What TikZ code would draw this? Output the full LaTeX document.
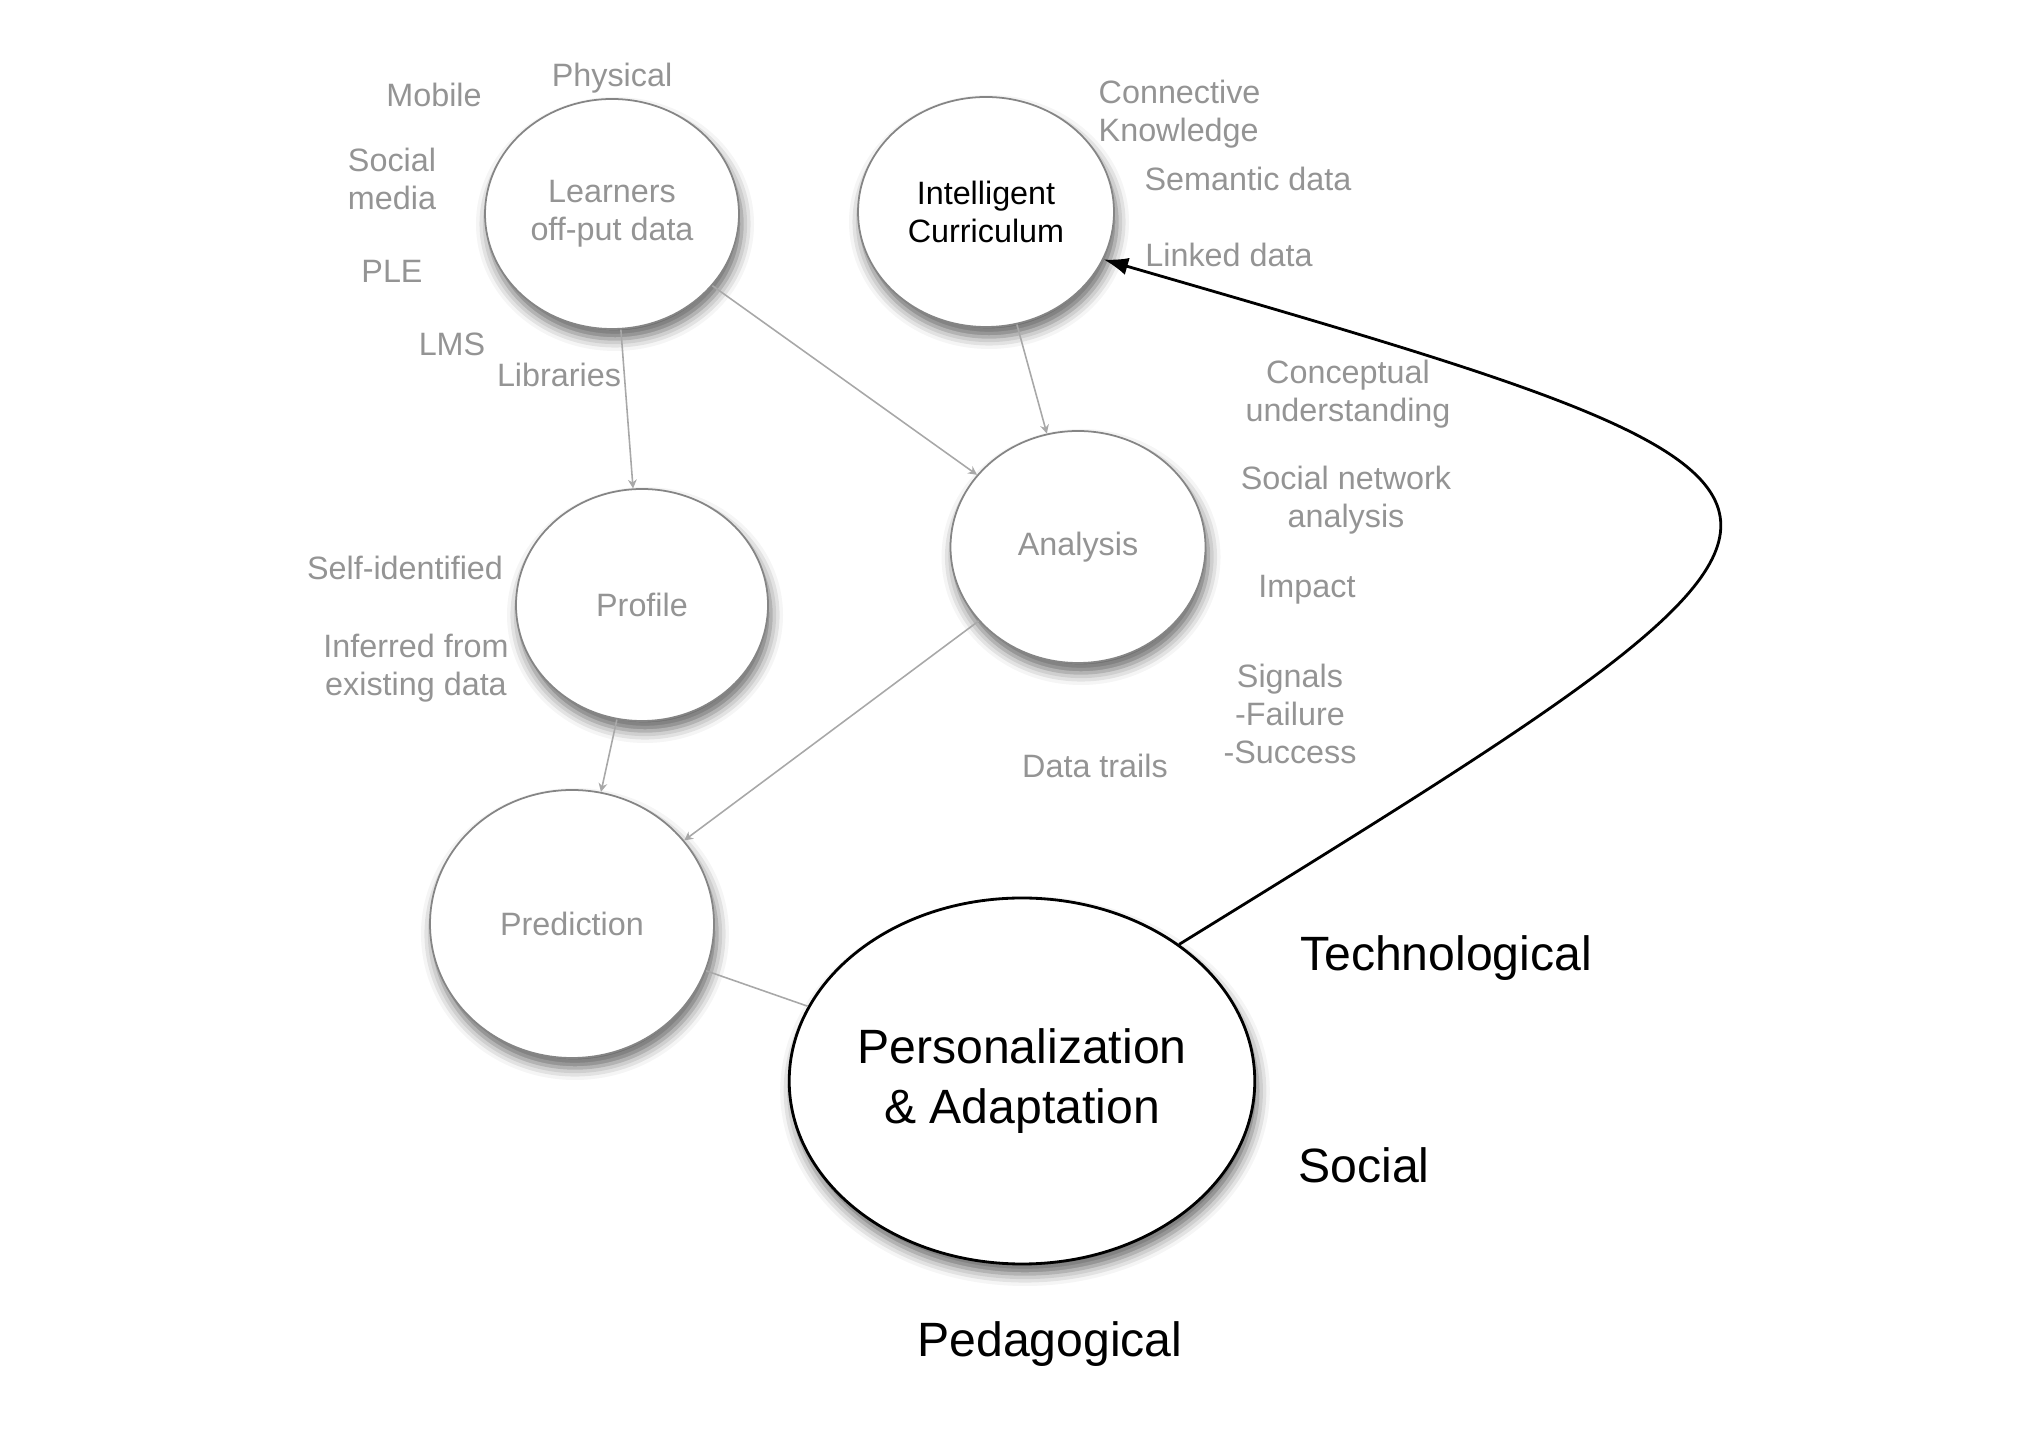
\documentclass[tikz,border=0pt]{standalone}
\usepackage{fontspec}
\setmainfont{Liberation Sans}
\usetikzlibrary{shapes.geometric,shadows.blur,arrows.meta}

\definecolor{labelgray}{gray}{0.58}
\definecolor{rimgray}{gray}{0.52}
\definecolor{linkgray}{gray}{0.66}

\begin{document}
\begin{tikzpicture}[auto,
	bubble/.style={ellipse, draw=rimgray, line width=0.5pt, fill=white, inner sep=0pt,
		text=labelgray, align=center, font=\fontsize{9.2}{10.7}\selectfont,
		blur shadow={shadow xshift=0.03cm, shadow yshift=-0.1cm, shadow blur radius=0.12cm, shadow opacity=60}},
	tag/.style={text=labelgray, align=center, inner sep=0pt, font=\fontsize{9.2}{10.7}\selectfont},
	theme/.style={text=black, inner sep=0pt, font=\fontsize{13.7}{17}\selectfont},
	link/.style={draw=linkgray, line width=0.45pt, -{Stealth[length=2.5pt,width=2.5pt]}}]

	\useasboundingbox (0,0) rectangle (20.37,14.40);

	\node (learners) [bubble, minimum width=2.54cm, minimum height=2.30cm] at (6.12, 12.26) {Learners\\off-put data};
	\node (curriculum) [bubble, minimum width=2.56cm, minimum height=2.30cm, text=black] at (9.86, 12.28) {Intelligent\\Curriculum};
	\node (profile) [bubble, minimum width=2.52cm, minimum height=2.32cm] at (6.42, 8.35) {Profile};
	\node (analysis) [bubble, minimum width=2.55cm, minimum height=2.32cm] at (10.78, 8.93) {Analysis};
	\node (prediction) [bubble, minimum width=2.84cm, minimum height=2.68cm] at (5.72, 5.16) {Prediction};
	\node (personal) [bubble, minimum width=4.58cm, minimum height=3.66cm, draw=black, line width=0.8pt,
		text=black, font=\fontsize{13.7}{17}\selectfont] at (10.22, 3.59) {Personalization\\\& Adaptation};

	% gray notes round the bubbles
	\node (physical) [tag] at (6.12, 13.62) {Physical};
	\node (mobile) [tag] at (4.34, 13.45) {Mobile};
	\node (socmedia) [tag] at (3.92, 12.61) {Social\\media};
	\node (ple) [tag] at (3.92, 11.69) {PLE};
	\node (lms) [tag] at (4.52, 10.96) {LMS};
	\node (libraries) [tag] at (5.59, 10.65) {Libraries};
	\node (connective) [tag, anchor=west, align=left] at (10.98, 13.26) {Connective\\Knowledge};
	\node (semantic) [tag] at (12.48, 12.61) {Semantic data};
	\node (linked) [tag] at (12.29, 11.85) {Linked data};
	\node (conceptual) [tag] at (13.48, 10.46) {Conceptual\\understanding};
	\node (sna) [tag] at (13.46, 9.40) {Social network\\analysis};
	\node (impact) [tag] at (13.07, 8.50) {Impact};
	\node (signals) [tag] at (12.90, 7.26) {Signals\\-Failure\\-Success};
	\node (trails) [tag] at (10.95, 6.74) {Data trails};
	\node (selfid) [tag] at (4.05, 8.72) {Self-identified};
	\node (inferred) [tag] at (4.16, 7.72) {Inferred from\\existing data};

	\node (techno) [theme] at (14.46, 4.82) {Technological};
	\node (social) [theme] at (13.64, 2.75) {Social};
	\node (pedago) [theme] at (10.50, 0.96) {Pedagogical};

	\coordinate (corner) at (19.10, 9.47);

	\path
	(learners) edge[link] (profile)
	(learners) edge[link] (analysis)
	(curriculum) edge[link] (analysis)
	(analysis) edge[link] (prediction)
	(profile) edge[link] (prediction)
	(prediction) edge[draw=linkgray, line width=0.45pt] (personal);

	\draw[-{Latex[length=7pt,width=5pt]}, line width=0.8pt] (personal.41) .. controls (corner) .. (curriculum.-22);

\end{tikzpicture}
\end{document}
